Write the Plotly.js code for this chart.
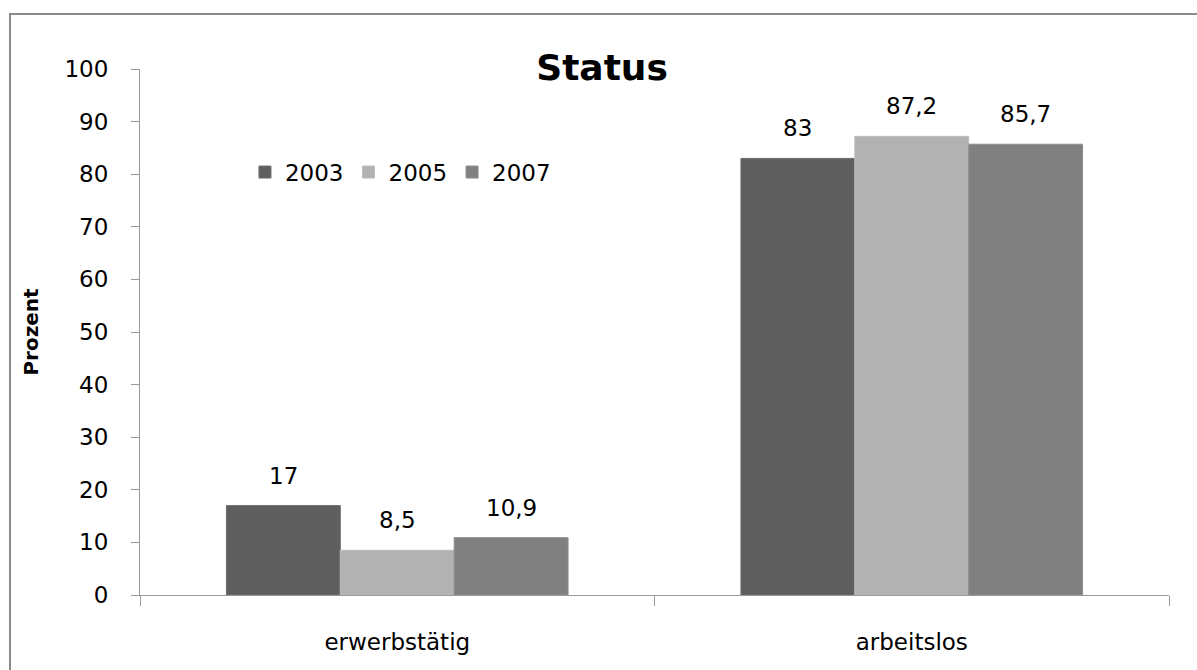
<!DOCTYPE html>
<html>
<head>
<meta charset="utf-8">
<script src="https://cdn.plot.ly/plotly-3.0.1.min.js"></script>
<style>
  html, body { margin: 0; padding: 0; background: #fff; overflow: hidden; }
  #chart { width: 1197px; height: 670px; position: absolute; left: 0; top: 0; }
  #frame { position: absolute; left: 9px; top: 13px; width: 1400px; height: 900px;
           border: 2px solid #8c8c8c; pointer-events: none; box-sizing: border-box; }
</style>
</head>
<body>
<div id="chart"></div>
<div id="frame"></div>
<script>
const categories = ["erwerbstätig", "arbeitslos"];
const seriesNames = ["2003", "2005", "2007"];
const values2003 = [17, 83];
const values2005 = [8.5, 87.2];
const values2007 = [10.9, 85.7];
const yTicks = [0, 10, 20, 30, 40, 50, 60, 70, 80, 90, 100];

const seriesValues = [values2003, values2005, values2007];
const colors = ["#5f5f5f", "#b2b2b2", "#808080"];
const edgeColors = ["#6e6e6e", "#bdbdbd", "#8e8e8e"];
const FONT = "DejaVu Sans";
const bargap = 0.336;

const traces = seriesNames.map((name, j) => ({
  type: "bar",
  name: name,
  x: categories,
  y: seriesValues[j],
  marker: { color: colors[j], line: { color: edgeColors[j], width: 1 } },
  hoverinfo: "none"
}));

const barW = (1 - bargap) / seriesNames.length;
const annotations = [];
seriesValues.forEach((vals, j) => {
  vals.forEach((v, i) => {
    annotations.push({
      xref: "x", yref: "y",
      x: i + (j - (seriesNames.length - 1) / 2) * barW,
      y: v,
      text: String(v).replace(".", ","),
      showarrow: false,
      yanchor: "middle",
      yshift: 30,
      font: { family: FONT, size: 23, color: "#000" }
    });
  });
});

const layout = {
  width: 1197, height: 670,
  margin: { l: 140, r: 28, t: 69, b: 75 },
  paper_bgcolor: "rgba(0,0,0,0)",
  plot_bgcolor: "rgba(0,0,0,0)",
  separators: ",.",
  barmode: "group",
  bargap: bargap,
  bargroupgap: 0,
  font: { family: FONT, size: 23, color: "#000" },
  title: {
    text: "<b>Status</b>",
    font: { family: FONT, size: 36, color: "#000" },
    x: 0.503, xanchor: "center",
    y: 0.9, yanchor: "middle",
    yref: "container"
  },
  showlegend: true,
  legend: {
    orientation: "h",
    x: 0.102, xanchor: "left",
    y: 0.804, yanchor: "middle",
    font: { family: FONT, size: 23, color: "#000" },
    bgcolor: "rgba(0,0,0,0)",
    traceorder: "normal"
  },
  xaxis: {
    type: "category",
    showline: true, linecolor: "#999", linewidth: 1,
    ticks: "outside", tickson: "boundaries", ticklen: 10, tickcolor: "#999",
    showgrid: false, zeroline: false,
    ticklabelstandoff: 26,
    tickfont: { family: FONT, size: 23, color: "#000" }
  },
  yaxis: {
    range: [0, 100],
    tickvals: yTicks,
    ticktext: yTicks.map(String),
    showline: true, linecolor: "#999", linewidth: 1,
    ticks: "outside", ticklen: 8, tickcolor: "#999",
    showgrid: false, zeroline: false,
    ticklabelstandoff: 18,
    tickfont: { family: FONT, size: 23, color: "#000" },
    title: { text: "<b>Prozent</b>", font: { family: FONT, size: 20, color: "#000" }, standoff: 20 }
  },
  annotations: annotations
};

Plotly.newPlot("chart", traces, layout, { displayModeBar: false, staticPlot: true });
</script>
</body>
</html>
